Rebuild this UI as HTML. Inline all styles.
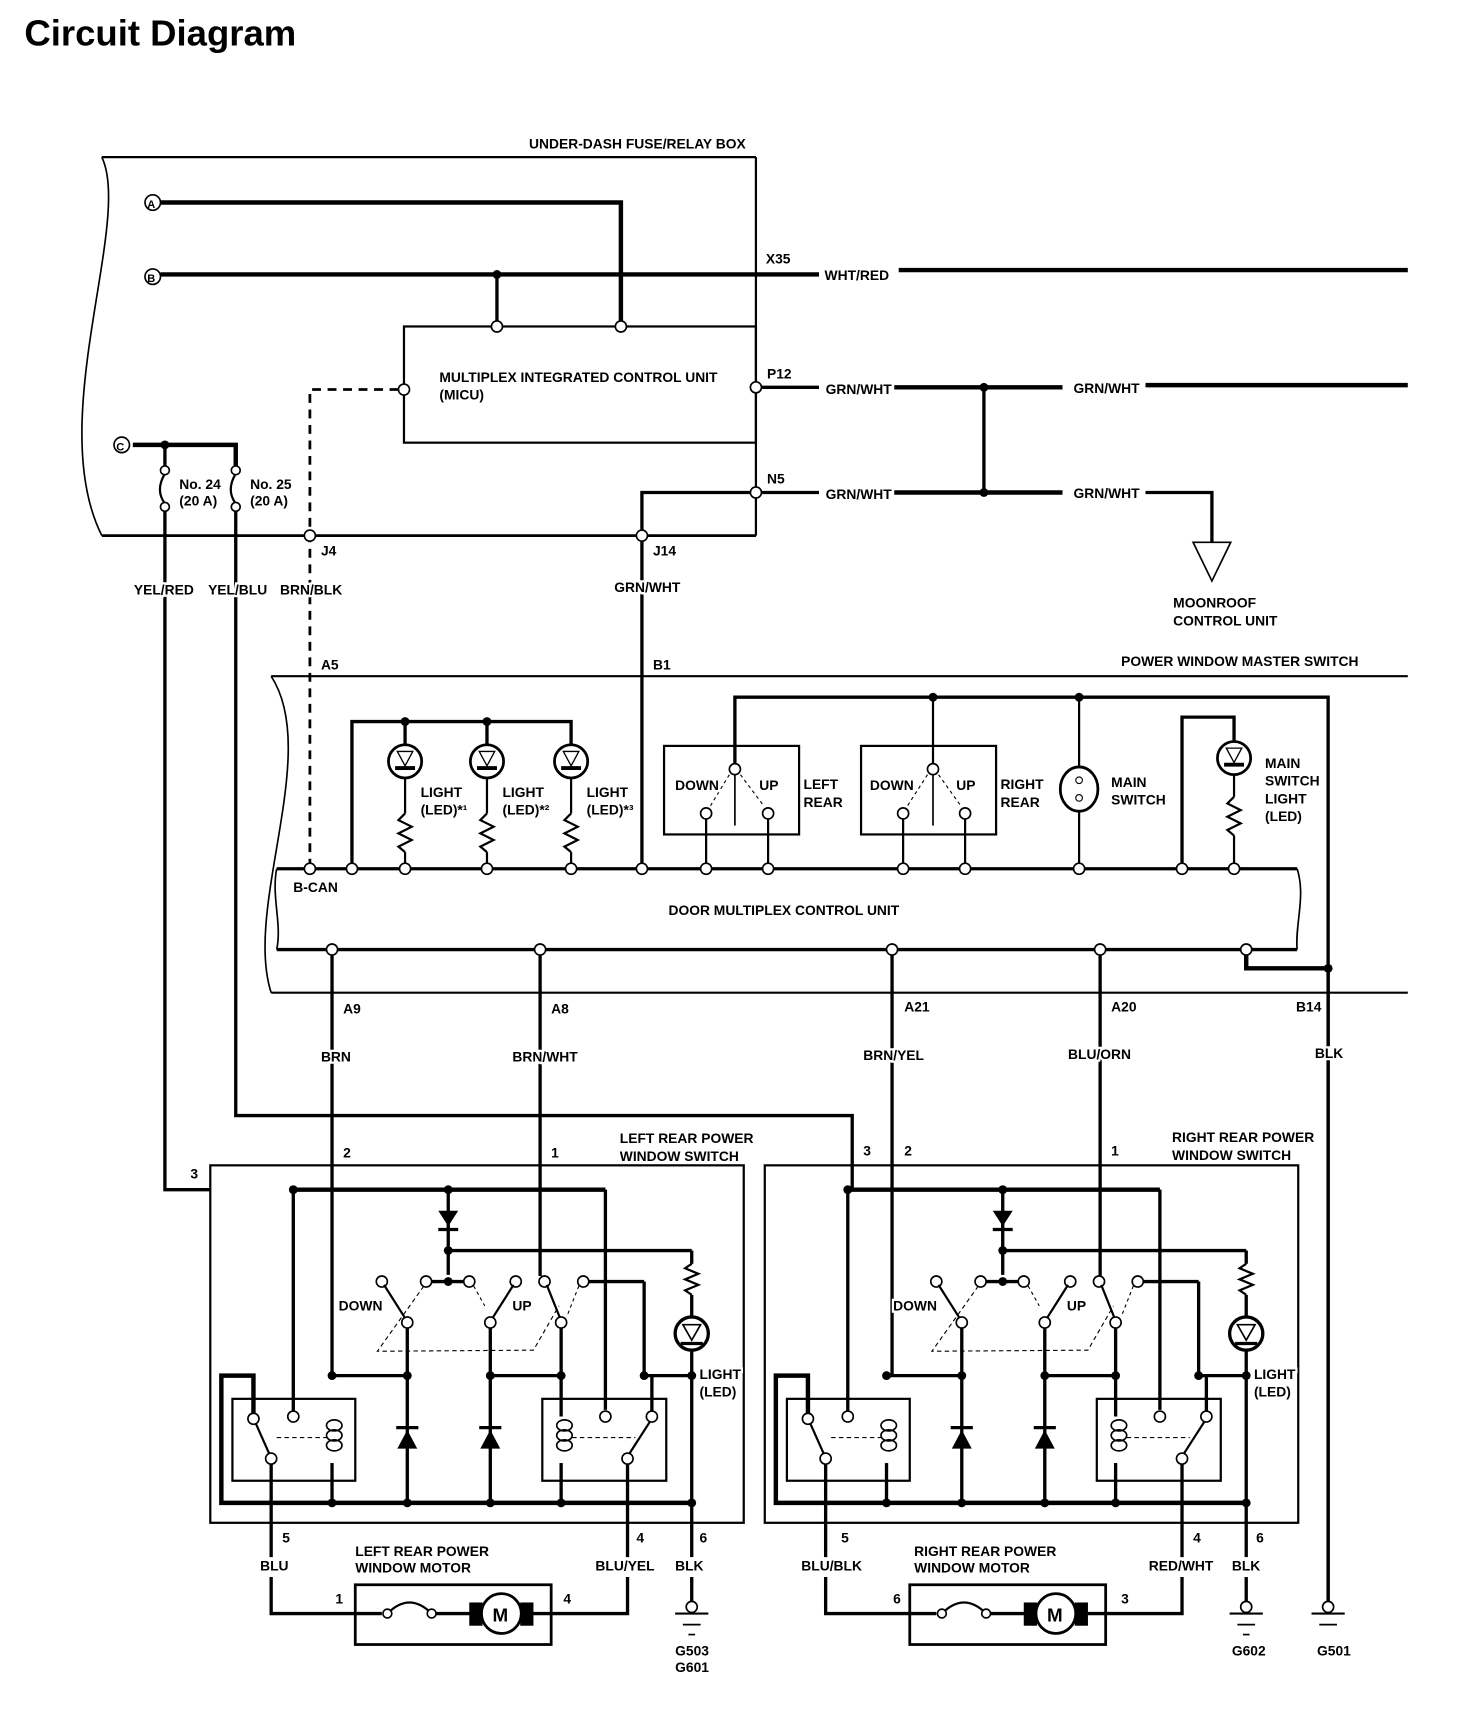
<!DOCTYPE html>
<html><head><meta charset="utf-8"><style>
html,body{margin:0;padding:0;background:#fff;}
svg{display:block;}
text{font-family:"Liberation Sans Narrow","Liberation Sans",sans-serif;font-weight:bold;font-size:12.5px;fill:#000;stroke:#fff;stroke-width:4px;paint-order:stroke;}
</style></head><body>
<svg width="1472" height="1722" viewBox="0 0 1330 1556" preserveAspectRatio="none" xmlns="http://www.w3.org/2000/svg">
<defs>
<g id="sw">
  <line x1="265" y1="1075" x2="547" y2="1075" stroke="#000" stroke-width="4"/>
  <circle cx="265" cy="1075" r="4"/><circle cx="405" cy="1075" r="4"/>
  <line x1="265" y1="1075" x2="265" y2="1276" stroke="#000" stroke-width="3"/>
  <line x1="547" y1="1075" x2="547" y2="1274" stroke="#000" stroke-width="3"/>
  <line x1="405" y1="1075" x2="405" y2="1152" stroke="#000" stroke-width="3"/>
  <polygon points="396,1094 414,1094 405,1108"/>
  <line x1="396" y1="1111" x2="414" y2="1111" stroke="#000" stroke-width="3"/>
  <circle cx="405" cy="1130" r="4"/><circle cx="405" cy="1158" r="4"/>
  <line x1="405" y1="1130" x2="625" y2="1130" stroke="#000" stroke-width="3"/>
  <line x1="625" y1="1130" x2="625" y2="1142" stroke="#000" stroke-width="3"/>
  <polyline points="625,1142 619,1146 631,1151 619,1156 631,1161 619,1166 625,1170" fill="none" stroke="#000" stroke-width="2"/>
  <line x1="625" y1="1170" x2="625" y2="1358" stroke="#000" stroke-width="3"/>
  <circle cx="625" cy="1205" r="15" fill="#fff" stroke="#000" stroke-width="3"/>
  <polygon points="617,1197 633,1197 625,1211" fill="#fff" stroke="#000" stroke-width="1.5"/>
  <line x1="615" y1="1214" x2="635" y2="1214" stroke="#000" stroke-width="3"/>
  <line x1="390" y1="1158" x2="420" y2="1158" stroke="#000" stroke-width="3"/>
  <g fill="#fff" stroke="#000" stroke-width="1.5">
  <circle cx="345" cy="1158" r="5"/><circle cx="385" cy="1158" r="5"/><circle cx="424" cy="1158" r="5"/><circle cx="466" cy="1158" r="5"/>
  <circle cx="492" cy="1158" r="5"/><circle cx="527" cy="1158" r="5"/>
  </g>
  <line x1="347" y1="1161" x2="366" y2="1191" stroke="#000" stroke-width="2"/>
  <line x1="464" y1="1161" x2="445" y2="1191" stroke="#000" stroke-width="2"/>
  <line x1="494" y1="1161" x2="506" y2="1191" stroke="#000" stroke-width="2"/>
  <polyline points="383,1162 341,1221 482,1220 505,1180" fill="none" stroke="#000" stroke-width="1" stroke-dasharray="4,3"/>
  <line x1="428" y1="1162" x2="438" y2="1180" stroke="#000" stroke-width="1" stroke-dasharray="3,3"/>
  <line x1="523" y1="1162" x2="512" y2="1190" stroke="#000" stroke-width="1" stroke-dasharray="3,3"/>
  <line x1="532" y1="1158" x2="582" y2="1158" stroke="#000" stroke-width="3"/>
  <line x1="582" y1="1158" x2="582" y2="1243" stroke="#000" stroke-width="3"/>
  <line x1="368" y1="1199" x2="368" y2="1358" stroke="#000" stroke-width="3"/>
  <line x1="443" y1="1199" x2="443" y2="1358" stroke="#000" stroke-width="3"/>
  <line x1="507" y1="1199" x2="507" y2="1280" stroke="#000" stroke-width="3"/>
  <line x1="507" y1="1322" x2="507" y2="1358" stroke="#000" stroke-width="3"/>
  <g fill="#fff" stroke="#000" stroke-width="1.5">
  <circle cx="368" cy="1195" r="5"/><circle cx="443" cy="1195" r="5"/><circle cx="507" cy="1195" r="5"/>
  </g>
  <line x1="300" y1="1243" x2="368" y2="1243" stroke="#000" stroke-width="3"/>
  <line x1="443" y1="1243" x2="507" y2="1243" stroke="#000" stroke-width="3"/>
  <line x1="582" y1="1243" x2="625" y2="1243" stroke="#000" stroke-width="3"/>
  <circle cx="300" cy="1243" r="4"/><circle cx="368" cy="1243" r="4"/><circle cx="443" cy="1243" r="4"/><circle cx="507" cy="1243" r="4"/><circle cx="582" cy="1243" r="4"/><circle cx="625" cy="1243" r="4"/>
  <polygon points="359,1309 377,1309 368,1292"/><line x1="358" y1="1290" x2="378" y2="1290" stroke="#000" stroke-width="3"/>
  <polygon points="434,1309 452,1309 443,1292"/><line x1="433" y1="1290" x2="453" y2="1290" stroke="#000" stroke-width="3"/>
  <rect x="210" y="1264" width="111" height="74" fill="none" stroke="#000" stroke-width="2"/>
  <rect x="490" y="1264" width="112" height="74" fill="none" stroke="#000" stroke-width="2"/>
  <polyline points="229,1280 229,1243 200,1243 200,1358 625,1358" fill="none" stroke="#000" stroke-width="4"/>
  <circle cx="300" cy="1358" r="4"/><circle cx="368" cy="1358" r="4"/><circle cx="443" cy="1358" r="4"/><circle cx="507" cy="1358" r="4"/><circle cx="625" cy="1358" r="4"/>
  <line x1="300" y1="1322" x2="300" y2="1358" stroke="#000" stroke-width="3"/>
  <g fill="none" stroke="#000" stroke-width="1.5">
  <ellipse cx="302" cy="1288" rx="7" ry="5"/><ellipse cx="302" cy="1297" rx="7" ry="5"/><ellipse cx="302" cy="1306" rx="7" ry="5"/>
  <ellipse cx="510" cy="1288" rx="7" ry="5"/><ellipse cx="510" cy="1297" rx="7" ry="5"/><ellipse cx="510" cy="1306" rx="7" ry="5"/>
  </g>
  <g fill="#fff" stroke="#000" stroke-width="1.5">
  <circle cx="229" cy="1282" r="5"/><circle cx="265" cy="1280" r="5"/><circle cx="245" cy="1318" r="5"/>
  <circle cx="547" cy="1280" r="5"/><circle cx="589" cy="1280" r="5"/><circle cx="567" cy="1318" r="5"/>
  </g>
  <line x1="231" y1="1286" x2="243" y2="1313" stroke="#000" stroke-width="2"/>
  <line x1="587" y1="1285" x2="569" y2="1313" stroke="#000" stroke-width="2"/>
  <line x1="250" y1="1299" x2="296" y2="1299" stroke="#000" stroke-width="1" stroke-dasharray="4,3"/>
  <line x1="517" y1="1299" x2="574" y2="1299" stroke="#000" stroke-width="1" stroke-dasharray="4,3"/>
  <line x1="589" y1="1243" x2="589" y2="1275" stroke="#000" stroke-width="3"/>
  <rect x="190" y="1053" width="482" height="323" fill="none" stroke="#000" stroke-width="2"/>
  <line x1="245" y1="1323" x2="245" y2="1407" stroke="#000" stroke-width="3"/>
  <line x1="567" y1="1323" x2="567" y2="1407" stroke="#000" stroke-width="3"/>
  <line x1="625" y1="1358" x2="625" y2="1407" stroke="#000" stroke-width="3"/>
  <polyline points="245,1425 245,1458 345,1458" fill="none" stroke="#000" stroke-width="3"/>
  <polyline points="567,1425 567,1458 482,1458" fill="none" stroke="#000" stroke-width="3"/>
  <rect x="321" y="1432" width="177" height="54" fill="none" stroke="#000" stroke-width="2.5"/>
  <path d="M350,1458 Q370,1438 390,1458" fill="none" stroke="#000" stroke-width="2"/>
  <circle cx="350" cy="1458" r="4" fill="#fff" stroke="#000" stroke-width="1.5"/>
  <circle cx="390" cy="1458" r="4" fill="#fff" stroke="#000" stroke-width="1.5"/>
  <line x1="394" y1="1458" x2="425" y2="1458" stroke="#000" stroke-width="3"/>
  <rect x="424" y="1448" width="12" height="21"/><rect x="470" y="1448" width="12" height="21"/>
  <circle cx="453" cy="1458" r="18" fill="#fff" stroke="#000" stroke-width="2.5"/>
  <text x="445" y="1465" style="font-size:17px;stroke:none">M</text>
  <line x1="625" y1="1425" x2="625" y2="1448" stroke="#000" stroke-width="3"/>
  <circle cx="625" cy="1452" r="5" fill="#fff" stroke="#000" stroke-width="1.5"/>
  <line x1="610" y1="1458" x2="640" y2="1458" stroke="#000" stroke-width="2"/>
  <line x1="617" y1="1468" x2="633" y2="1468" stroke="#000" stroke-width="1.5"/>
  <line x1="622" y1="1477" x2="628" y2="1477" stroke="#000" stroke-width="1.5"/>
  <text x="306" y="1184">DOWN</text><text x="463" y="1184">UP</text>
  <text x="632" y="1246">LIGHT</text><text x="632" y="1262">(LED)</text>
</g>
</defs>

<text x="22" y="41" style="font-family:'Liberation Sans',sans-serif;font-size:33px;stroke:none">Circuit Diagram</text>

<g stroke="#000" fill="none">
<path d="M92,142 C120,200 40,380 92,484" stroke-width="1.5"/>
<line x1="92" y1="142" x2="683" y2="142" stroke-width="2"/>
<line x1="683" y1="142" x2="683" y2="484" stroke-width="2"/>
<line x1="92" y1="484" x2="683" y2="484" stroke-width="2.5"/>
<polyline points="145,183 561,183 561,295" stroke-width="4"/>
<line x1="145" y1="248" x2="740" y2="248" stroke-width="4"/>
<line x1="812" y1="244" x2="1272" y2="244" stroke-width="4"/>
<line x1="449" y1="248" x2="449" y2="295" stroke-width="3"/>
<rect x="365" y="295" width="318" height="105" stroke-width="2"/>
<polyline points="360,352 280,352 280,785" stroke-width="2.5" stroke-dasharray="8,6"/>
<line x1="683" y1="350" x2="740" y2="350" stroke-width="3"/>
<line x1="808" y1="350" x2="960" y2="350" stroke-width="4"/>
<line x1="1035" y1="348" x2="1272" y2="348" stroke-width="4"/>
<line x1="683" y1="445" x2="740" y2="445" stroke-width="3"/>
<line x1="808" y1="445" x2="960" y2="445" stroke-width="4"/>
<polyline points="1035,445 1095,445 1095,490" stroke-width="3"/>
<polygon points="1078,490 1112,490 1095,525" stroke-width="1.5"/>
<line x1="889" y1="350" x2="889" y2="445" stroke-width="3"/>
<polyline points="580,785 580,445 683,445" stroke-width="3"/>
<polyline points="120,402 213,402 213,422" stroke-width="4"/>
<line x1="149" y1="402" x2="149" y2="422" stroke-width="3"/>
<path d="M149,428 Q140,443 149,455" stroke-width="2"/>
<path d="M213,428 Q204,443 213,455" stroke-width="2"/>
<polyline points="149,460 149,1075 190,1075" stroke-width="3"/>
<polyline points="213,460 213,1008 770,1008 770,1075" stroke-width="3"/>
<line x1="245" y1="611" x2="1272" y2="611" stroke-width="2"/>
<line x1="245" y1="897" x2="1272" y2="897" stroke-width="2"/>
<path d="M245,611 C290,680 220,820 245,897" stroke-width="1.5"/>
<line x1="250" y1="785" x2="1172" y2="785" stroke-width="3"/>
<line x1="250" y1="858" x2="1172" y2="858" stroke-width="3"/>
<path d="M250,785 C245,810 255,835 250,858" stroke-width="1.5"/>
<path d="M1172,785 C1180,810 1170,835 1172,858" stroke-width="1.5"/>
<polyline points="318,785 318,652 516,652 516,675" stroke-width="3"/>
<line x1="366" y1="652" x2="366" y2="675" stroke-width="3"/>
<line x1="440" y1="652" x2="440" y2="675" stroke-width="3"/>
<polyline points="664,690 664,630 1200,630 1200,1450" stroke-width="3"/>
<line x1="843" y1="630" x2="843" y2="690" stroke-width="2"/>
<line x1="975" y1="630" x2="975" y2="785" stroke-width="2"/>
<rect x="600" y="674" width="122" height="80" stroke-width="2"/>
<rect x="778" y="674" width="122" height="80" stroke-width="2"/>
<line x1="664" y1="700" x2="664" y2="746" stroke-width="1.5"/>
<line x1="843" y1="700" x2="843" y2="746" stroke-width="1.5"/>
<line x1="638" y1="740" x2="638" y2="785" stroke-width="2"/>
<line x1="694" y1="740" x2="694" y2="785" stroke-width="2"/>
<line x1="816" y1="740" x2="816" y2="785" stroke-width="2"/>
<line x1="872" y1="740" x2="872" y2="785" stroke-width="2"/>
<line x1="659" y1="700" x2="642" y2="728" stroke-width="1" stroke-dasharray="3,3"/>
<line x1="669" y1="700" x2="690" y2="728" stroke-width="1" stroke-dasharray="3,3"/>
<line x1="838" y1="700" x2="820" y2="728" stroke-width="1" stroke-dasharray="3,3"/>
<line x1="848" y1="700" x2="868" y2="728" stroke-width="1" stroke-dasharray="3,3"/>
<ellipse cx="975" cy="713" rx="17" ry="20" stroke-width="2.5" fill="#fff"/>
<circle cx="975" cy="705" r="3" stroke-width="1"/><circle cx="975" cy="721" r="3" stroke-width="1"/>
<polyline points="1068,785 1068,648 1115,648 1115,670" stroke-width="3"/>
<polyline points="1126,858 1126,875 1200,875" stroke-width="4"/>
<g stroke-width="2">
<line x1="366" y1="700" x2="366" y2="735"/><polyline points="366,735 360,741 372,747 360,753 372,759 360,765 366,770"/><line x1="366" y1="770" x2="366" y2="785"/>
<line x1="440" y1="700" x2="440" y2="735"/><polyline points="440,735 434,741 446,747 434,753 446,759 434,765 440,770"/><line x1="440" y1="770" x2="440" y2="785"/>
<line x1="516" y1="700" x2="516" y2="735"/><polyline points="516,735 510,741 522,747 510,753 522,759 510,765 516,770"/><line x1="516" y1="770" x2="516" y2="785"/>
<line x1="1115" y1="700" x2="1115" y2="720"/><polyline points="1115,720 1109,726 1121,732 1109,738 1121,744 1109,750 1115,755"/><line x1="1115" y1="755" x2="1115" y2="785"/>
</g>
<g stroke-width="2.5" fill="#fff">
<circle cx="366" cy="688" r="15"/><circle cx="440" cy="688" r="15"/><circle cx="516" cy="688" r="15"/><circle cx="1115" cy="685" r="15"/>
</g>
<g stroke-width="1.2" fill="#fff">
<polygon points="359,679 373,679 366,692"/><polygon points="433,679 447,679 440,692"/><polygon points="509,679 523,679 516,692"/><polygon points="1108,676 1122,676 1115,689"/>
</g>
<g stroke-width="3.5">
<line x1="357" y1="694" x2="375" y2="694"/><line x1="431" y1="694" x2="449" y2="694"/><line x1="507" y1="694" x2="525" y2="694"/><line x1="1106" y1="691" x2="1124" y2="691"/>
</g>
<line x1="300" y1="858" x2="300" y2="1243" stroke-width="3"/>
<line x1="488" y1="858" x2="488" y2="1153" stroke-width="3"/>
<line x1="806" y1="858" x2="806" y2="1243" stroke-width="3"/>
<line x1="994" y1="858" x2="994" y2="1075" stroke-width="3"/>
<line x1="1200" y1="875" x2="1200" y2="1450" stroke-width="3"/>
<circle cx="1200" cy="1452" r="5" fill="#fff" stroke-width="1.5"/>
<line x1="1185" y1="1458" x2="1215" y2="1458" stroke-width="2"/>
<line x1="1192" y1="1468" x2="1208" y2="1468" stroke-width="1.5"/>
</g>
<circle cx="1200" cy="875" r="4"/><circle cx="889" cy="350" r="4"/><circle cx="889" cy="445" r="4"/><circle cx="449" cy="248" r="4"/><circle cx="149" cy="402" r="4"/>
<circle cx="366" cy="652" r="4"/><circle cx="440" cy="652" r="4"/><circle cx="843" cy="630" r="4"/><circle cx="975" cy="630" r="4"/>

<g fill="#fff" stroke="#000" stroke-width="1.5">
<circle cx="138" cy="183" r="7"/><circle cx="138" cy="250" r="7"/><circle cx="110" cy="402" r="7"/>
<circle cx="449" cy="295" r="5"/><circle cx="561" cy="295" r="5"/><circle cx="365" cy="352" r="5"/><circle cx="683" cy="350" r="5"/><circle cx="683" cy="445" r="5"/>
<circle cx="149" cy="425" r="4"/><circle cx="149" cy="458" r="4"/><circle cx="213" cy="425" r="4"/><circle cx="213" cy="458" r="4"/>
<circle cx="280" cy="484" r="5"/><circle cx="580" cy="484" r="5"/>
<circle cx="280" cy="785" r="5"/><circle cx="318" cy="785" r="5"/><circle cx="366" cy="785" r="5"/><circle cx="440" cy="785" r="5"/><circle cx="516" cy="785" r="5"/><circle cx="580" cy="785" r="5"/><circle cx="638" cy="785" r="5"/><circle cx="694" cy="785" r="5"/><circle cx="816" cy="785" r="5"/><circle cx="872" cy="785" r="5"/><circle cx="975" cy="785" r="5"/><circle cx="1068" cy="785" r="5"/><circle cx="1115" cy="785" r="5"/>
<circle cx="300" cy="858" r="5"/><circle cx="488" cy="858" r="5"/><circle cx="806" cy="858" r="5"/><circle cx="994" cy="858" r="5"/><circle cx="1126" cy="858" r="5"/>
<circle cx="664" cy="695" r="5"/><circle cx="638" cy="735" r="5"/><circle cx="694" cy="735" r="5"/>
<circle cx="843" cy="695" r="5"/><circle cx="816" cy="735" r="5"/><circle cx="872" cy="735" r="5"/>
</g>
<text x="133" y="188" style="font-size:10px;stroke:none">A</text><text x="133" y="255" style="font-size:10px;stroke:none">B</text><text x="105" y="407" style="font-size:10px;stroke:none">C</text>

<text x="478" y="134">UNDER-DASH FUSE/RELAY BOX</text>
<text x="692" y="238">X35</text><text x="745" y="253">WHT/RED</text>
<text x="397" y="345">MULTIPLEX INTEGRATED CONTROL UNIT</text><text x="397" y="361">(MICU)</text>
<text x="693" y="342">P12</text><text x="746" y="356">GRN/WHT</text><text x="970" y="355">GRN/WHT</text>
<text x="693" y="437">N5</text><text x="746" y="451">GRN/WHT</text><text x="970" y="450">GRN/WHT</text>
<text x="1060" y="549">MOONROOF</text><text x="1060" y="565">CONTROL UNIT</text>
<text x="162" y="442">No. 24</text><text x="162" y="457">(20 A)</text>
<text x="226" y="442">No. 25</text><text x="226" y="457">(20 A)</text>
<text x="290" y="502">J4</text><text x="590" y="502">J14</text>
<text x="121" y="537">YEL/RED</text><text x="188" y="537">YEL/BLU</text><text x="253" y="537">BRN/BLK</text><text x="555" y="535">GRN/WHT</text>
<text x="290" y="605">A5</text><text x="590" y="605">B1</text><text x="1013" y="602">POWER WINDOW MASTER SWITCH</text>
<text x="380" y="720">LIGHT</text><text x="380" y="736">(LED)*¹</text>
<text x="454" y="720">LIGHT</text><text x="454" y="736">(LED)*²</text>
<text x="530" y="720">LIGHT</text><text x="530" y="736">(LED)*³</text>
<text x="610" y="714">DOWN</text><text x="686" y="714">UP</text><text x="726" y="713">LEFT</text><text x="726" y="729">REAR</text>
<text x="786" y="714">DOWN</text><text x="864" y="714">UP</text><text x="904" y="713">RIGHT</text><text x="904" y="729">REAR</text>
<text x="1004" y="711">MAIN</text><text x="1004" y="727">SWITCH</text>
<text x="1143" y="694">MAIN</text><text x="1143" y="710">SWITCH</text><text x="1143" y="726">LIGHT</text><text x="1143" y="742">(LED)</text>
<text x="265" y="806">B-CAN</text><text x="604" y="827">DOOR MULTIPLEX CONTROL UNIT</text>
<text x="310" y="916">A9</text><text x="498" y="916">A8</text><text x="817" y="914">A21</text><text x="1004" y="914">A20</text><text x="1171" y="914">B14</text>
<text x="290" y="959">BRN</text><text x="463" y="959">BRN/WHT</text><text x="780" y="958">BRN/YEL</text><text x="965" y="957">BLU/ORN</text><text x="1188" y="956">BLK</text>
<text x="560" y="1033">LEFT REAR POWER</text><text x="560" y="1049">WINDOW SWITCH</text>
<text x="1059" y="1032">RIGHT REAR POWER</text><text x="1059" y="1048">WINDOW SWITCH</text>
<text x="172" y="1065">3</text><text x="310" y="1046">2</text><text x="498" y="1046">1</text>
<text x="780" y="1044">3</text><text x="817" y="1044">2</text><text x="1004" y="1044">1</text>

<use href="#sw"/>
<use href="#sw" transform="translate(501,0)"/>
<g stroke="#000" fill="none" stroke-width="3">
<line x1="770" y1="1075" x2="766" y2="1075"/>
<line x1="994" y1="1075" x2="994" y2="1153"/>
</g>

<text x="255" y="1394">5</text><text x="575" y="1394">4</text><text x="632" y="1394">6</text>
<text x="235" y="1419">BLU</text><text x="538" y="1419">BLU/YEL</text><text x="610" y="1419">BLK</text>
<text x="321" y="1406">LEFT REAR POWER</text><text x="321" y="1421">WINDOW MOTOR</text>
<text x="303" y="1449">1</text><text x="509" y="1449">4</text>
<text x="610" y="1496">G503</text><text x="610" y="1511">G601</text>
<text x="760" y="1394">5</text><text x="1078" y="1394">4</text><text x="1135" y="1394">6</text>
<text x="724" y="1419">BLU/BLK</text><text x="1038" y="1419">RED/WHT</text><text x="1113" y="1419">BLK</text>
<text x="826" y="1406">RIGHT REAR POWER</text><text x="826" y="1421">WINDOW MOTOR</text>
<text x="807" y="1449">6</text><text x="1013" y="1449">3</text>
<text x="1113" y="1496">G602</text><text x="1190" y="1496">G501</text>
</svg>
</body></html>
